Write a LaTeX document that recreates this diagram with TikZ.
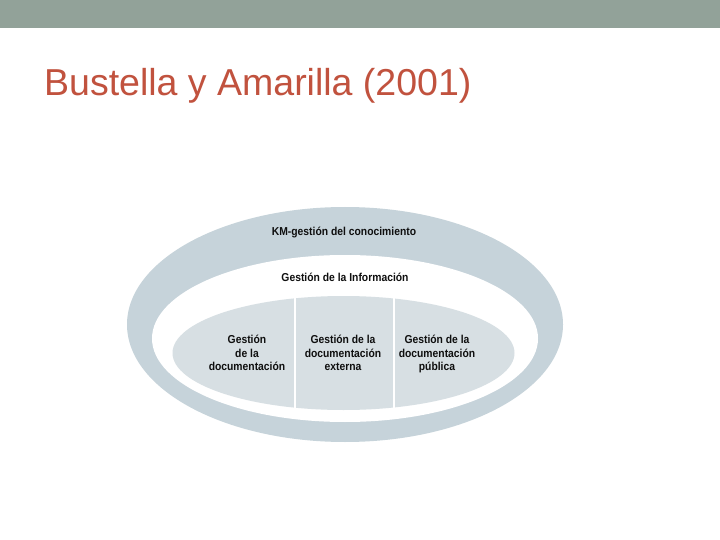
\documentclass[tikz,border=0pt]{standalone}
\usepackage{fontspec}
\setmainfont{Liberation Sans}
\newfontfamily\titlefont{Liberation Sans}
\newfontfamily\condfont[FakeStretch=0.9]{Liberation Sans}
\definecolor{bandcol}{RGB}{146,162,153}
\definecolor{titlecol}{RGB}{193,82,62}
\definecolor{ringcol}{RGB}{198,211,218}
\definecolor{innercol}{RGB}{215,223,227}
\definecolor{txtcol}{RGB}{15,15,15}
\tikzset{
  lbl/.style={font=\condfont\fontsize{11.5}{13.5}\selectfont\bfseries, text=txtcol, align=center, inner sep=0pt},
  divider/.style={draw=white, line width=2.5pt}
}
\begin{document}
\begin{tikzpicture}[x=1pt,y=-1pt]
\useasboundingbox (0,0) rectangle (720,540);
\fill[white] (0,0) rectangle (720,540);
% top band
\fill[bandcol] (0,0) rectangle (720,28);
% title
\node[anchor=base west, inner sep=0pt, text=titlecol, font=\titlefont\fontsize{37.5}{40}\selectfont] (title) at (44,96) {Bustella y Amarilla (2001)};
% ellipses
\fill[ringcol] (345,324.5) ellipse [x radius=218, y radius=117.5];
\fill[white] (345,338.5) ellipse [x radius=193, y radius=83.5];
\fill[innercol] (343.5,353) ellipse [x radius=171, y radius=57];
% dividers
\coordinate (d1t) at (295,292);
\coordinate (d1b) at (295,414);
\coordinate (d2t) at (394,292);
\coordinate (d2b) at (394,414);
\draw[divider] (d1t) -- (d1b);
\draw[divider] (d2t) -- (d2b);
% labels
\node[lbl] (km) at (344,232.5) {KM-gestión del conocimiento};
\node[lbl] (info) at (345,277.5) {Gestión de la Información};
\node[lbl] (doc) at (247,353) {Gestión\\de la\\documentación};
\node[lbl] (ext) at (343,353) {Gestión de la\\documentación\\externa};
\node[lbl] (pub) at (437,354) {Gestión de la\\documentación\\pública};
\end{tikzpicture}
\end{document}
